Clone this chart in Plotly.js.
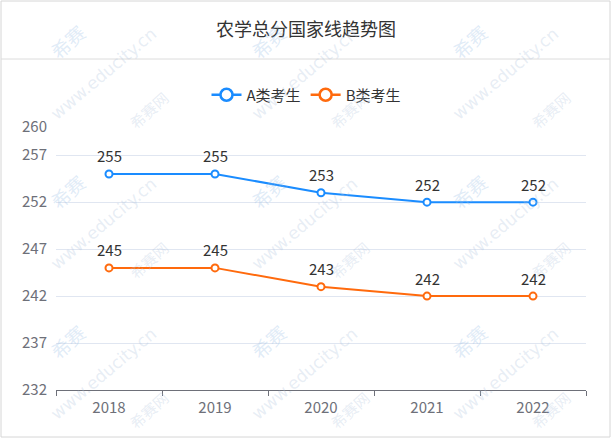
<!DOCTYPE html>
<html>
<head>
<meta charset="utf-8">
<script src="https://cdn.plot.ly/plotly-3.0.1.min.js"></script>
<style>
  html, body { margin: 0; padding: 0; background: #fff; }
  #chart { width: 612px; height: 440px; }
</style>
</head>
<body>
<div id="chart"></div>
<script>
// years and cut-off scores
var years = ['2018', '2019', '2020', '2021', '2022'];
var scoresA = [255, 255, 253, 252, 252];
var scoresB = [245, 245, 243, 242, 242];
var yTicks = [232, 237, 242, 247, 252, 257, 260];

var blue = '#1a8cff';
var orange = '#ff6a0d';

// plot box in pixels, used to place things given in paper coords
var L = 56, R = 586, T = 127, B = 390;
function px(x) { return (x - L) / (R - L); }
function py(y) { return (B - y) / (B - T); }

// faint site watermark, repeated in a 3x3 tile
function watermarks(font) {
    var out = [];
    var cols = [33, 234, 435];
    var rows = [70, 220, 370];
    var wmColor = 'rgba(175,195,220,0.3)';
    function wm(x, y, text, angle, size, color, fam) {
        out.push({xref: 'paper', yref: 'paper', x: px(x), y: py(y),
            xanchor: 'center', yanchor: 'middle',
            text: text, showarrow: false, textangle: angle,
            font: {size: size, color: color, family: fam}});
    }
    cols.forEach(function (cx) {
        rows.forEach(function (cy) {
            wm(cx + 34, cy - 29, '希赛', -42, 19, 'rgba(150,190,230,0.3)', font);
            wm(cx + 70, cy + 4, 'www.educity.cn', -40, 17, wmColor, 'DejaVu Sans');
            wm(cx + 115, cy + 40, '希赛网', -42, 15, wmColor, font);
        });
    });
    return out;
}

function buildChart() {
    var font = 'Noto Sans CJK SC, Noto Sans, sans-serif';

    var traceA = {
        x: years,
        y: scoresA,
        type: 'scatter',
        mode: 'lines+markers',
        name: 'A类考生',
        showlegend: false,
        line: {color: blue, width: 2},
        marker: {size: 7, color: '#fff', line: {color: blue, width: 2}}
    };

    var traceB = {
        x: years,
        y: scoresB,
        type: 'scatter',
        mode: 'lines+markers',
        name: 'B类考生',
        showlegend: false,
        line: {color: orange, width: 2},
        marker: {size: 7, color: '#fff', line: {color: orange, width: 2}}
    };

    // legend entries with the bigger icon
    var legA = {
        x: [null], y: [null], type: 'scatter', mode: 'lines+markers', name: 'A类考生',
        line: {color: blue, width: 2.5},
        marker: {size: 12, color: '#fff', line: {color: blue, width: 2.5}}
    };
    var legB = {
        x: [null], y: [null], type: 'scatter', mode: 'lines+markers', name: 'B类考生',
        line: {color: orange, width: 2.5},
        marker: {size: 12, color: '#fff', line: {color: orange, width: 2.5}}
    };

    // value labels above every point
    var labels = watermarks(font);
    [scoresA, scoresB].forEach(function (s) {
        for (var i = 0; i < years.length; i++) {
            labels.push({
                xref: 'x', yref: 'y',
                x: i, y: s[i], text: String(s[i]),
                showarrow: false, yshift: 18,
                font: {size: 15, color: '#333', family: font}
            });
        }
    });

    var layout = {
        width: 612,
        height: 440,
        autosize: false,
        margin: {l: L, r: 612 - R, t: T, b: 440 - B, autoexpand: false},
        paper_bgcolor: '#fff',
        plot_bgcolor: 'rgba(0,0,0,0)',
        font: {family: font, color: '#6e7079', size: 15},
        title: {
            text: '农学总分国家线趋势图',
            x: 0.5, xref: 'container', xanchor: 'center',
            y: 1 - 30 / 440, yref: 'container', yanchor: 'middle',
            font: {size: 18, color: '#333', family: font}
        },
        showlegend: true,
        legend: {
            orientation: 'h',
            x: 0.5, xref: 'container', xanchor: 'center',
            y: py(95), yanchor: 'middle',
            font: {size: 15, color: '#333', family: font},
            bgcolor: 'rgba(0,0,0,0)',
            tracegroupgap: 0
        },
        xaxis: {
            type: 'category',
            range: [-0.5, 4.5],
            tickson: 'boundaries',
            ticks: 'outside',
            ticklen: 5,
            tickcolor: '#6e7079',
            showline: true,
            linecolor: '#6e7079',
            linewidth: 1,
            showgrid: false,
            zeroline: false,
            tickfont: {size: 15, color: '#6e7079'},
            ticklabelstandoff: 4,
            fixedrange: true
        },
        yaxis: {
            range: [232, 260],
            tickmode: 'array',
            tickvals: yTicks,
            ticks: '',
            showline: false,
            gridcolor: '#e0e6f1',
            gridwidth: 1,
            zeroline: false,
            tickfont: {size: 15, color: '#6e7079'},
            ticklabelstandoff: 8,
            fixedrange: true
        },
        annotations: labels,
        shapes: [
            {   // outer card border
                type: 'rect', xref: 'paper', yref: 'paper',
                x0: px(1), x1: px(610), y0: py(437), y1: py(1),
                line: {color: '#d6d6d6', width: 1}
            },
            {   // separator under the title
                type: 'line', xref: 'paper', yref: 'paper',
                x0: px(1), x1: px(610), y0: py(59), y1: py(59),
                line: {color: '#dcdcdc', width: 1}
            }
        ]
    };

    Plotly.newPlot('chart', [traceA, traceB, legA, legB], layout, {displayModeBar: false, staticPlot: true});
}

buildChart();
</script>
</body>
</html>
